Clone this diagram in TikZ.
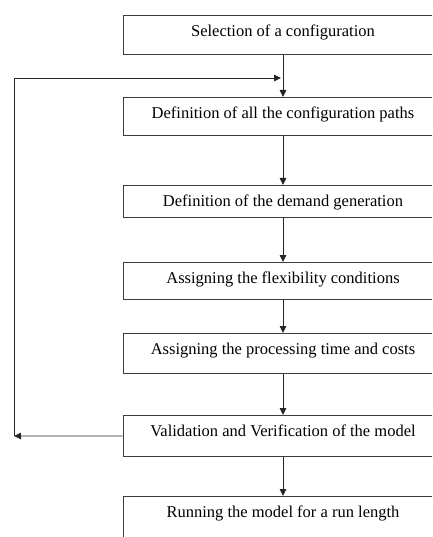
\documentclass[tikz,border=0pt]{standalone}
\usepackage{fontspec}
\setmainfont{Liberation Serif}
\usetikzlibrary{arrows.meta}
\definecolor{stageline}{RGB}{60,60,60}
\newcommand{\stagefont}{\fontsize{16.5}{20}\selectfont}
\begin{document}
\begin{tikzpicture}[x=1pt,y=-1pt,>={Triangle[length=7pt,width=6.5pt]}]

%
% Styles
%
\tikzstyle{stage} = [rectangle,draw=stageline,line width=0.9pt,anchor=north,
  minimum width=320pt,inner ysep=0pt,text height=21pt,font=\stagefont]
\tikzstyle{flow} = [draw=black!85,line width=0.9pt]

\path[use as bounding box,clip] (0,0) rectangle (432,537);

\node[stage,text depth=18pt] (sel)    at (283, 15)  {Selection of a configuration};
\node[stage,text depth=17pt] (paths)  at (283, 97)  {Definition of all the configuration paths};
\node[stage,text depth=11pt] (demand) at (283,185)  {Definition of the demand generation};
\node[stage,text depth=16pt] (flex)   at (283,262)  {Assigning the flexibility conditions};
\node[stage,text depth=19pt] (proc)   at (283,333)  {Assigning the processing time and costs};
\node[stage,text depth=20pt] (valid)  at (283,415)  {Validation and Verification of the model};
\node[stage,text depth=20pt] (run)    at (283,496)  {Running the model for a run length};

\draw[flow,->] (sel) -- (paths);
\draw[flow,->] (paths) -- (demand);
\draw[flow,->] (demand) -- (flex);
\draw[flow,->] (flex) -- (proc);
\draw[flow,->] (proc) -- (valid);
\draw[flow,->] (valid) -- (run);

% feedback loop
\coordinate (lb) at ( 14,436);
\coordinate (lt) at ( 14, 78);
\coordinate (lm) at (281, 78);
\draw[flow,->] (valid.west) -- (lb);
\draw[flow,->] (lb) -- (lt) -- (lm);

\end{tikzpicture}
\end{document}
